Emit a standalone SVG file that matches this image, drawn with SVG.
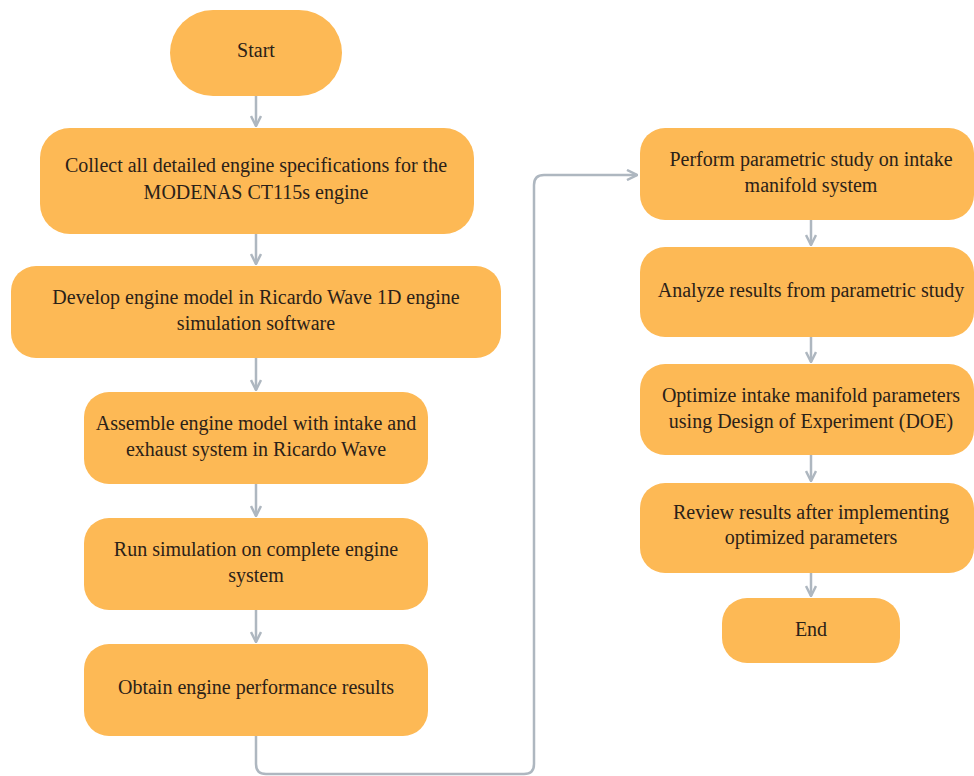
<svg xmlns="http://www.w3.org/2000/svg" width="974" height="776" viewBox="0 0 974 776">
<style>
.n{fill:#FDB955;}
.t{font-family:'Liberation Serif','Times New Roman',serif;font-size:20px;fill:#2b2118;text-anchor:middle;}
.c{fill:none;stroke:#AEB7C0;stroke-width:2.5;}
</style>
<defs>
<marker id="ah" viewBox="0 0 10 10" refX="9" refY="5" markerWidth="5" markerHeight="5" orient="auto" markerUnits="strokeWidth">
<path d="M1,1 L9,5 L1,9" fill="none" stroke="#AEB7C0" stroke-width="2"/>
</marker>
</defs>
<rect width="974" height="776" fill="#ffffff"/>
<g id="connectors">
<path class="c" d="M256,96 V126" marker-end="url(#ah)"/>
<path class="c" d="M256,234 V264" marker-end="url(#ah)"/>
<path class="c" d="M256,358 V390" marker-end="url(#ah)"/>
<path class="c" d="M256,484 V516" marker-end="url(#ah)"/>
<path class="c" d="M256,610 V642" marker-end="url(#ah)"/>
<path class="c" d="M256,736 V764 Q256,774 266,774 H524 Q534,774 534,764 V185 Q534,175 544,175 H637" marker-end="url(#ah)"/>
<path class="c" d="M811,220 V245" marker-end="url(#ah)"/>
<path class="c" d="M811,337 V362" marker-end="url(#ah)"/>
<path class="c" d="M811,455 V481" marker-end="url(#ah)"/>
<path class="c" d="M811,573 V596" marker-end="url(#ah)"/>
</g>
<g id="start"><rect class="n" x="170" y="10" width="172" height="86" rx="43"/><text class="t" x="256" y="57" font-family="Liberation Serif">Start</text></g>
<g id="collect"><rect class="n" x="40" y="128" width="434" height="106" rx="30"/><text class="t" x="256" y="172">Collect all detailed engine specifications for the</text><text class="t" x="256" y="199">MODENAS CT115s engine</text></g>
<g id="develop"><rect class="n" x="11" y="266" width="490" height="92" rx="25"/><text class="t" x="256" y="304">Develop engine model in Ricardo Wave 1D engine</text><text class="t" x="256" y="330">simulation software</text></g>
<g id="assemble"><rect class="n" x="84" y="392" width="344" height="92" rx="25"/><text class="t" x="256" y="430">Assemble engine model with intake and</text><text class="t" x="256" y="456">exhaust system in Ricardo Wave</text></g>
<g id="run"><rect class="n" x="84" y="518" width="344" height="92" rx="25"/><text class="t" x="256" y="556">Run simulation on complete engine</text><text class="t" x="256" y="582">system</text></g>
<g id="obtain"><rect class="n" x="84" y="644" width="344" height="92" rx="25"/><text class="t" x="256" y="694">Obtain engine performance results</text></g>
<g id="perform"><rect class="n" x="640" y="128" width="334" height="92" rx="25"/><text class="t" x="811" y="166">Perform parametric study on intake</text><text class="t" x="811" y="192">manifold system</text></g>
<g id="analyze"><rect class="n" x="640" y="247" width="334" height="90" rx="25"/><text class="t" x="811" y="297">Analyze results from parametric study</text></g>
<g id="optimize"><rect class="n" x="640" y="364" width="334" height="91" rx="25"/><text class="t" x="811" y="402">Optimize intake manifold parameters</text><text class="t" x="811" y="428">using Design of Experiment (DOE)</text></g>
<g id="review"><rect class="n" x="640" y="483" width="334" height="90" rx="25"/><text class="t" x="811" y="519">Review results after implementing</text><text class="t" x="811" y="544">optimized parameters</text></g>
<g id="end"><rect class="n" x="722" y="598" width="178" height="65" rx="25"/><text class="t" x="811" y="636">End</text></g>
</svg>
